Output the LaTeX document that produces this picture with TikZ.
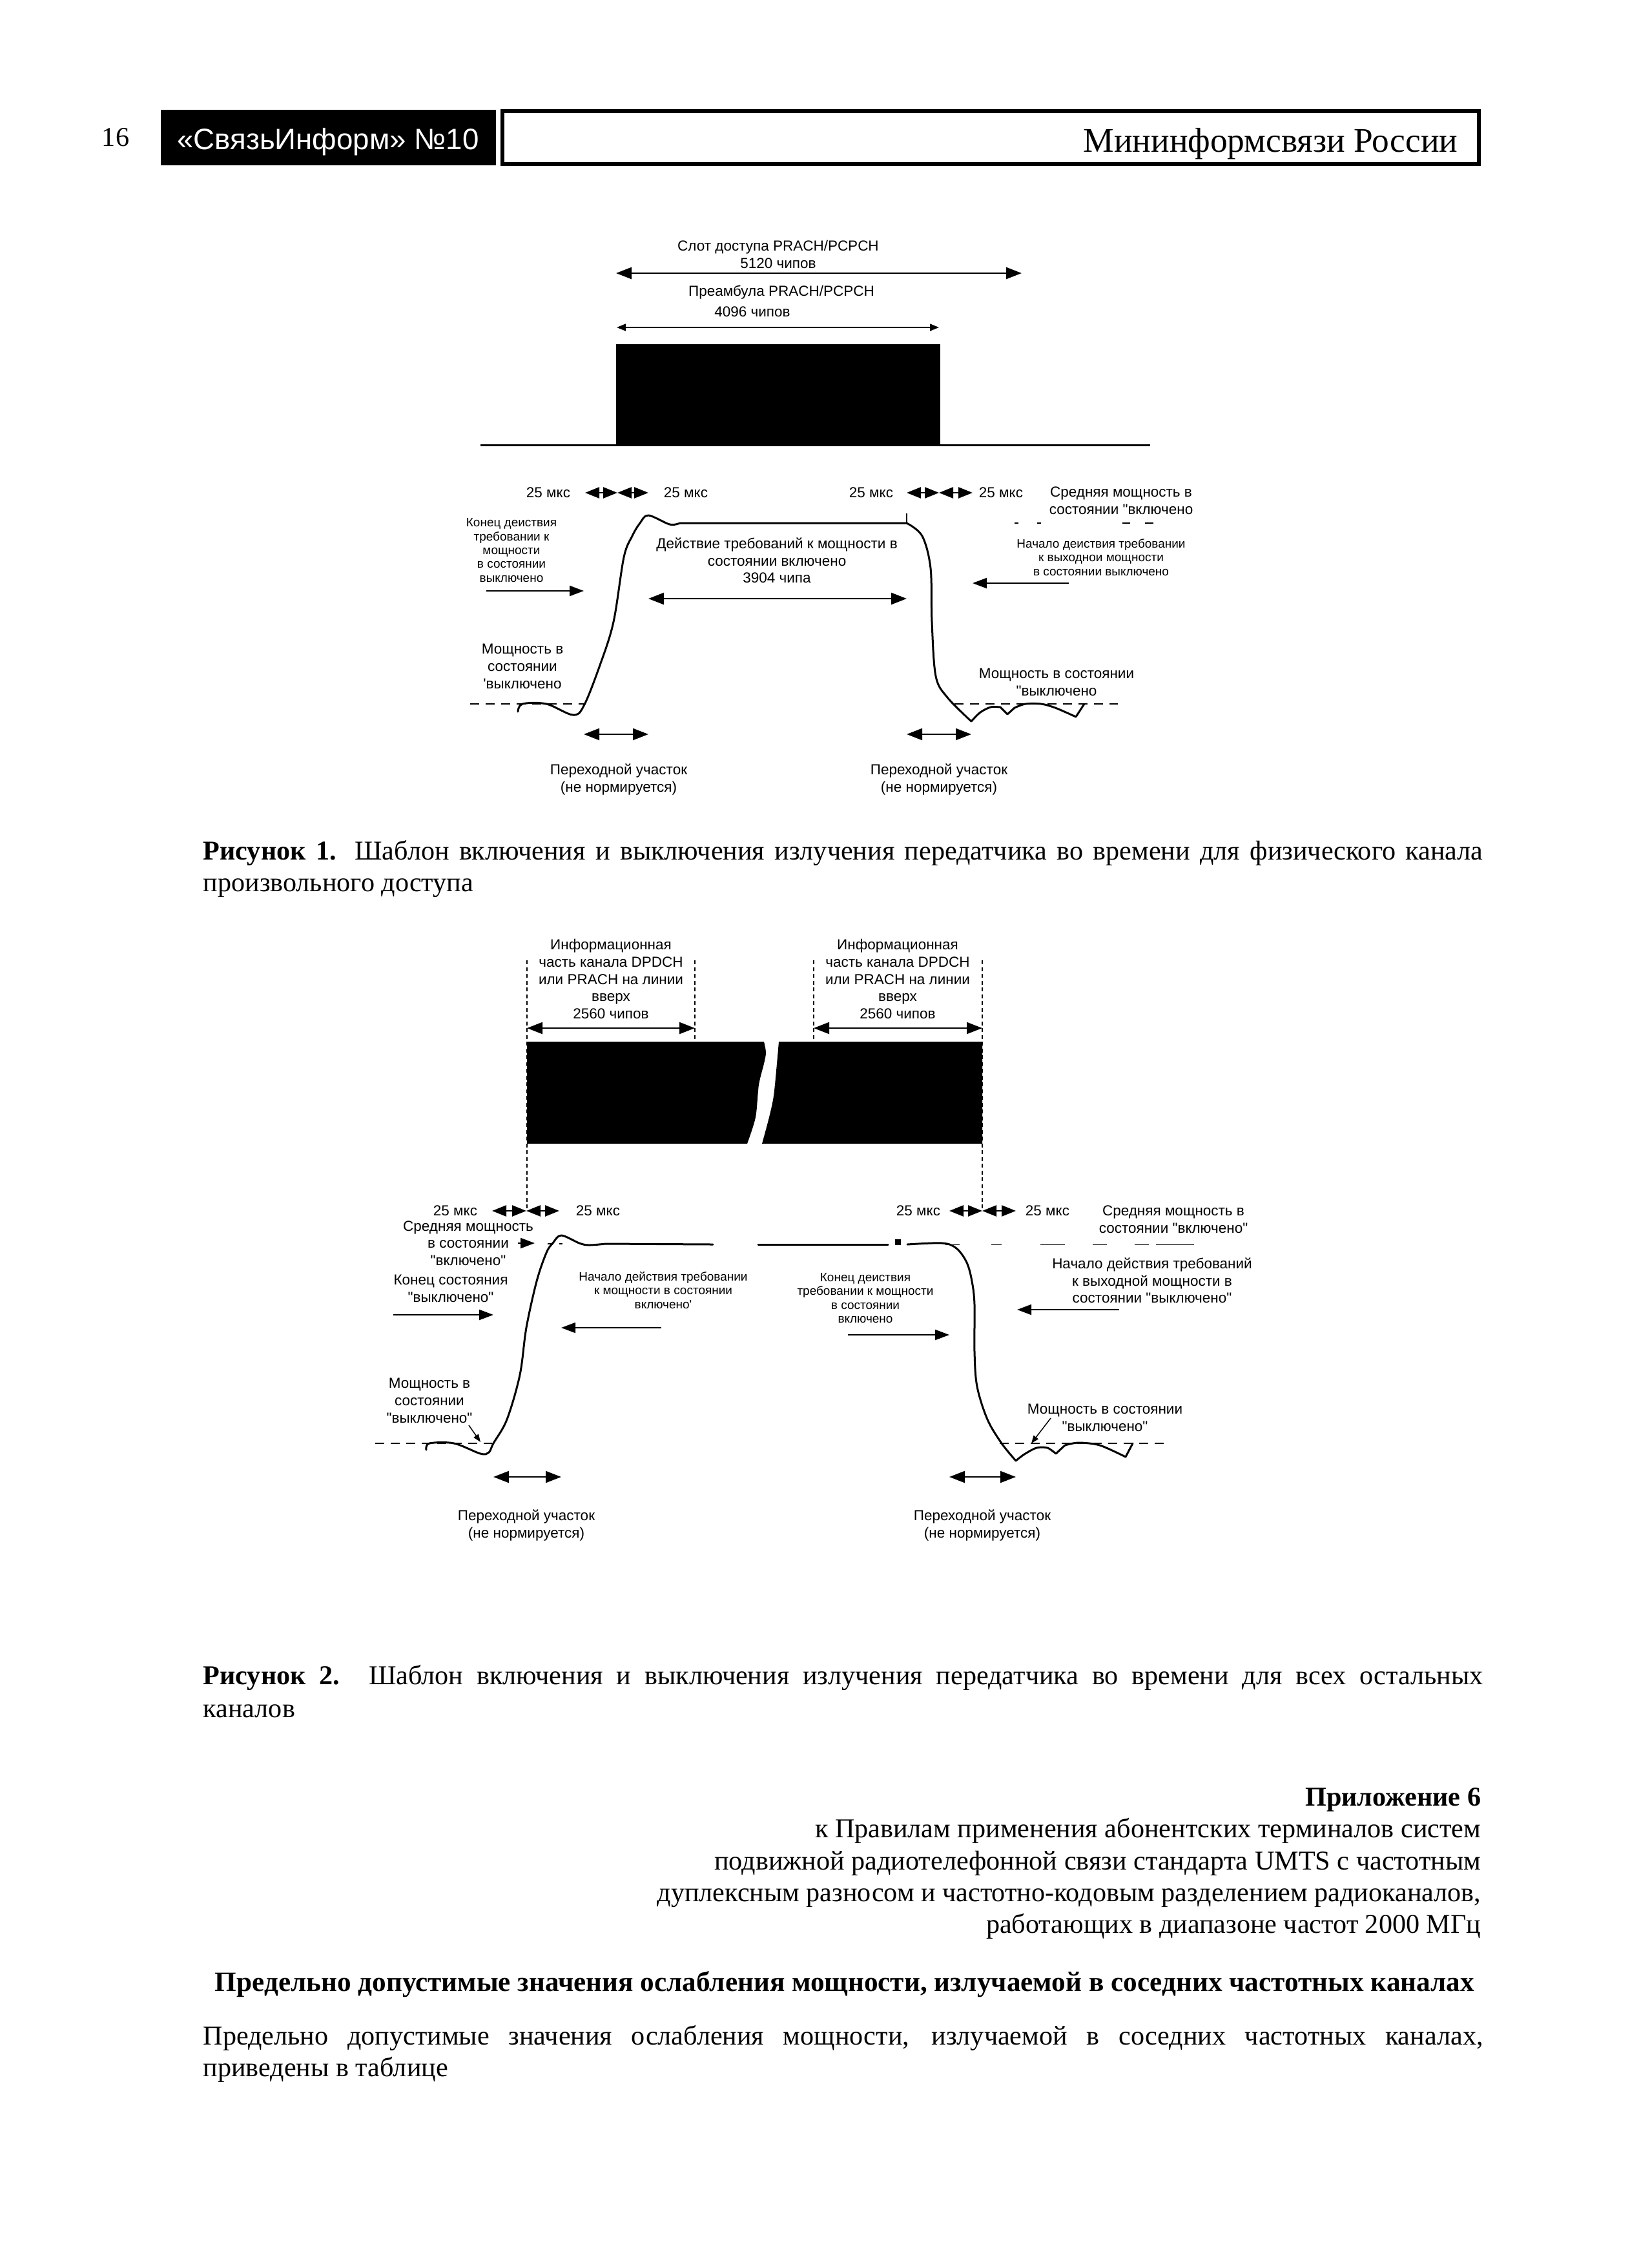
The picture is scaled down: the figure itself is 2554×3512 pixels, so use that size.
\documentclass[tikz,border=0pt]{standalone}
\usepackage{fontspec}
\setmainfont{Liberation Serif}
\newfontfamily\diagfont{Liberation Sans}
\usetikzlibrary{arrows.meta,calc}

\begin{document}
\begin{tikzpicture}[
  x=0.1mm, y=-0.1mm,
  lbl/.style={font=\diagfont\fontsize{6.4}{7.6}\selectfont, align=center, inner sep=0pt},
  lblsm/.style={font=\diagfont\fontsize{5.4}{6.1}\selectfont, align=center, inner sep=0pt},
  body/.style={font=\fontsize{12}{14}\selectfont, inner sep=0pt, anchor=base west},
  wave/.style={line width=0.3mm, line cap=round, line join=round},
  offlevel/.style={line width=0.2mm, dash pattern=on 1.4mm off 1mm},
  guide/.style={line width=0.12mm, dash pattern=on 0.6mm off 0.45mm},
  dimarrow/.style={line width=0.25mm, {Triangle[length=2.4mm,width=1.8mm]}-{Triangle[length=2.4mm,width=1.8mm]}},
  thindim/.style={line width=0.15mm, {Triangle[length=1.4mm,width=1.1mm]}-{Triangle[length=1.4mm,width=1.1mm]}},
  usarrow/.style={line width=0.25mm, {Triangle[length=2.2mm,width=1.7mm]}-{Triangle[length=2.2mm,width=1.7mm]}},
  pointer/.style={line width=0.2mm, -{Triangle[length=2.2mm,width=1.6mm]}},
  smallpointer/.style={line width=0.15mm, -{Triangle[length=1.2mm,width=0.9mm]}}
]
\useasboundingbox[fill=white] (0,0) rectangle (2554,3512);

% header
\node[anchor=base, font=\fontsize{12}{14}\selectfont] (pagenum) at (179,226) {16};
\fill (249,170) rectangle (768,256);
\node[anchor=base, text=white, font=\diagfont\fontsize{13}{14}\selectfont] (journal) at (508,231) {«СвязьИнформ» №10};
\draw[line width=0.6mm] (778,172) rectangle (2290,254);
\node[anchor=base east, font=\fontsize{15.2}{16}\selectfont] (ministry) at (2270,235) {Мининформсвязи России};

% figure 1
\node[lbl] (slotlbl) at (1205,394) {Слот доступа PRACH/PCPCH\\5120 чипов};
\draw[dimarrow] (954,423) -- (1582,423);
\node[lbl] (prelbl) at (1210,453) {Преамбула PRACH/PCPCH};
\node[lbl] (prechips) at (1165,483) {4096 чипов};
\draw[thindim] (955,507) -- (1454,507);
\fill (954,533) rectangle (1456,690);
\draw[line width=0.3mm] (744,689) -- (1781,689);

\node[lbl] (usA) at (849,763) {25 мкс};
\draw[usarrow] (906,763) -- (956,763);
\draw[usarrow] (956,763) -- (1004,763);
\node[lbl] (usB) at (1062,763) {25 мкс};
\node[lbl] (usC) at (1349,763) {25 мкс};
\draw[usarrow] (1404,763) -- (1454,763);
\draw[usarrow] (1454,763) -- (1506,763);
\node[lbl] (usD) at (1550,763) {25 мкс};
\node[lbl] (avgonA) at (1736,775) {Средняя мощность в\\состоянии "включено};
\foreach \xa/\xb in {1571/1577,1606/1612,1738/1750,1773/1786}
  \draw[line width=0.12mm] (\xa,810) -- (\xb,810);

\node[lblsm] (offendA) at (792,852) {Конец деиствия\\требовании к\\мощности\\в состоянии\\выключено};
\draw[pointer] (753,915) -- (904,915);
\node[lbl] (onreqA) at (1203,868) {Действие требований к мощности в\\состоянии включено\\3904 чипа};
\draw[dimarrow] (1004,927) -- (1404,927);
\node[lblsm] (offbegA) at (1705,863) {Начало деиствия требовании\\к выходнои мощности\\в состоянии выключено};
\draw[pointer] (1655,903) -- (1506,903);

\draw[wave] plot[smooth, tension=0.55] coordinates {(802,1102) (809,1090) (846,1090) (887,1107) (904,1093) (929,1030) (950,963) (966,863) (979,830) (991,810) (1004,798) (1037,812) (1053,810)} -- (1404,810);
\draw[wave] plot[smooth, tension=0.55] coordinates {(1404,810) (1428,830) (1441,880) (1443,963) (1449,1047) (1467,1080) (1504,1117)};
\draw[wave] plot[smooth, tension=0.5] coordinates {(1504,1117) (1518,1103) (1534,1095) (1549,1095)} -- (1560,1106) -- (1571,1096);
\draw[wave] plot[smooth, tension=0.5] coordinates {(1571,1096) (1588,1090) (1612,1090) (1634,1096) (1666,1110)} -- (1679,1090);
\draw[line width=0.12mm] (1404,795) -- (1404,810);
\draw[offlevel] (728,1090) -- (904,1090);
\draw[offlevel] (1478,1090) -- (1731,1090);
\node[lbl] (offpwrA) at (809,1032) {Мощность в\\состоянии\\'выключено};
\node[lbl] (offpwrB) at (1636,1056) {Мощность в состоянии\\"выключено};
\draw[dimarrow] (904,1137) -- (1004,1137);
\draw[dimarrow] (1404,1137) -- (1504,1137);
\node[lbl] (transA) at (958,1207) {Переходной участок\\(не нормируется)};
\node[lbl] (transB) at (1454,1207) {Переходной участок\\(не нормируется)};

% caption 1
\node[body] (capAa) at (314,1331) {\makebox[198.2mm][s]{\textbf{Рисунок 1.} Шаблон включения и выключения излучения передатчика во времени для физического канала}};
\node[body] (capAb) at (314,1380) {произвольного доступа};

% figure 2
\node[lbl] (infoA) at (946,1516) {Информационная\\часть канала DPDCH\\или PRACH на линии\\вверх\\2560 чипов};
\node[lbl] (infoB) at (1390,1516) {Информационная\\часть канала DPDCH\\или PRACH на линии\\вверх\\2560 чипов};
\draw[guide] (816,1487) -- (816,1875);
\draw[guide] (1521,1487) -- (1521,1875);
\draw[guide] (1076,1487) -- (1076,1613);
\draw[guide] (1260,1487) -- (1260,1613);
\draw[dimarrow] (816,1592) -- (1076,1592);
\draw[dimarrow] (1260,1592) -- (1521,1592);
\fill (816,1613) -- plot[smooth] coordinates {(1183,1613) (1186,1630) (1183,1647) (1175,1680) (1170,1730) (1157,1771)} -- (816,1771) -- cycle;
\fill plot[smooth] coordinates {(1206,1613) (1203,1647) (1198,1697) (1191,1730) (1180,1771)} -- (1521,1771) -- (1521,1613) -- cycle;

\node[lbl] (usE) at (705,1875) {25 мкс};
\draw[usarrow] (762,1875) -- (815,1875);
\draw[usarrow] (815,1875) -- (866,1875);
\node[lbl] (usF) at (926,1875) {25 мкс};
\node[lbl] (usG) at (1422,1875) {25 мкс};
\draw[usarrow] (1470,1875) -- (1521,1875);
\draw[usarrow] (1521,1875) -- (1573,1875);
\node[lbl] (usH) at (1622,1875) {25 мкс};

\node[lbl] (avgonB) at (725,1925) {Средняя мощность\\в состоянии\\"включено"};
\draw[pointer] (802,1925) -- (828,1925);
\node[lbl] (offendB) at (698,1995) {Конец состояния\\"выключено"};
\draw[pointer] (609,2036) -- (764,2036);
\node[lbl] (offpwrC) at (665,2169) {Мощность в\\состоянии\\"выключено"};
\draw[smallpointer] (726,2207) -- (744,2233);
\draw[offlevel] (581,2235) -- (762,2235);
\draw[wave] plot[smooth, tension=0.55] coordinates {(660,2245) (665,2235) (703,2235) (744,2251) (757,2249) (764,2235) (785,2198) (805,2129) (815,2056) (831,1984) (846,1940) (856,1925) (869,1913) (897,1925) (912,1928) (938,1926)} -- (1104,1927);
\foreach \xa/\xb in {848/856,866/871}
  \draw[line width=0.12mm] (\xa,1926) -- (\xb,1926);
\node[lblsm] (onbegB) at (1027,1998) {Начало действия требовании\\к мощности в состоянии\\включено'};
\draw[pointer] (1024,2056) -- (869,2056);

\draw[wave] (1174,1927) -- (1375,1927);
\fill (1386,1919) rectangle (1395,1928);
\draw[wave] plot[smooth, tension=0.55] coordinates {(1405,1927) (1459,1925) (1481,1933) (1497,1955) (1505,1984) (1509,2020) (1509,2093) (1513,2147) (1529,2198) (1551,2235) (1573,2262)};
\draw[wave] plot[smooth, tension=0.5] coordinates {(1573,2262) (1586,2252) (1605,2242) (1622,2242) (1635,2251)} -- (1649,2238);
\draw[wave] plot[smooth, tension=0.5] coordinates {(1649,2238) (1670,2234) (1703,2238) (1743,2256)} -- (1754,2235);
\foreach \xa/\xb in {1464/1486,1535/1551,1611/1649,1692/1714,1757/1779,1790/1849}
  \draw[line width=0.1mm] (\xa,1927) -- (\xb,1927);
\node[lblsm] (onendB) at (1340,2010) {Конец деиствия\\требовании к мощности\\в состоянии\\включено};
\draw[pointer] (1313,2067) -- (1470,2067);
\node[lbl] (avgonC) at (1817,1888) {Средняя мощность в\\состоянии "включено"};
\node[lbl] (offbegB) at (1784,1983) {Начало действия требований\\к выходной мощности в\\состоянии "выключено"};
\draw[pointer] (1733,2028) -- (1575,2028);
\node[lbl] (offpwrD) at (1711,2195) {Мощность в состоянии\\"выключено"};
\draw[smallpointer] (1627,2196) -- (1597,2235);
\draw[offlevel] (1548,2235) -- (1811,2235);
\draw[dimarrow] (764,2287) -- (869,2287);
\draw[dimarrow] (1470,2287) -- (1573,2287);
\node[lbl] (transC) at (815,2362) {Переходной участок\\(не нормируется)};
\node[lbl] (transD) at (1521,2362) {Переходной участок\\(не нормируется)};

% caption 2
\node[body] (capBa) at (314,2608) {\makebox[198.2mm][s]{\textbf{Рисунок 2.} Шаблон включения и выключения излучения передатчика во времени для всех остальных}};
\node[body] (capBb) at (314,2659) {каналов};

% appendix
\node[body, anchor=base east] (annex) at (2294,2796) {\textbf{Приложение 6}};
\node[body, anchor=base east] (annexA) at (2294,2845) {к Правилам применения абонентских терминалов систем};
\node[body, anchor=base east] (annexB) at (2294,2895) {подвижной радиотелефонной связи стандарта UMTS с частотным};
\node[body, anchor=base east] (annexC) at (2294,2944) {дуплексным разносом и частотно-кодовым разделением радиоканалов,};
\node[body, anchor=base east] (annexD) at (2294,2993) {работающих в диапазоне частот 2000 МГц};
\node[body, anchor=base, font=\fontsize{12.3}{14}\selectfont] (heading) at (1308,3083) {\textbf{Предельно допустимые значения ослабления мощности, излучаемой в соседних частотных каналах}};
\node[body] (paraA) at (314,3166) {\makebox[198.2mm][s]{Предельно допустимые значения ослабления мощности, излучаемой в соседних частотных каналах,}};
\node[body] (paraB) at (314,3215) {приведены в таблице};
\end{tikzpicture}
\end{document}
